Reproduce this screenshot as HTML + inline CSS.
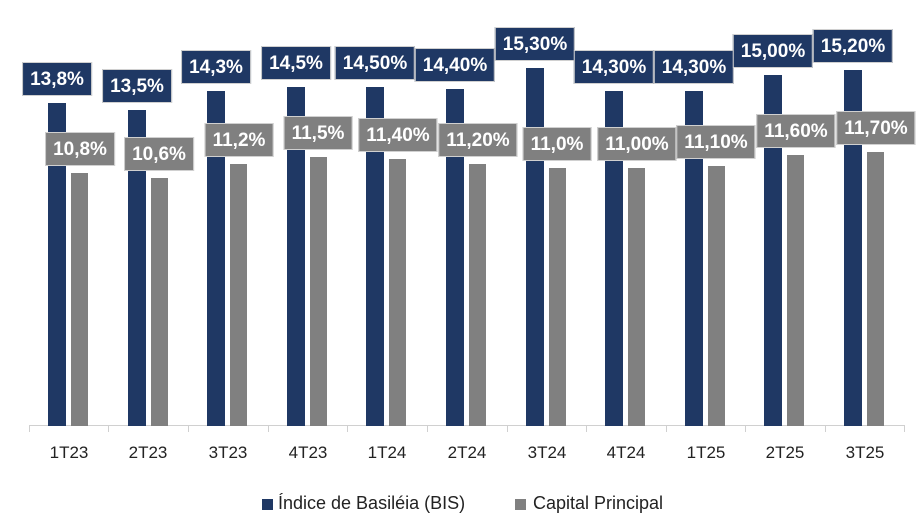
<!DOCTYPE html><html><head><style>
body{margin:0;width:921px;height:527px;background:#fff;position:relative;overflow:hidden;font-family:"Liberation Sans",Arial,sans-serif}
.b{position:absolute;background:#1f3864;width:18px;bottom:101px}
.g{position:absolute;background:#808080;width:17px;bottom:101px}
.l{position:absolute;transform:translateX(-50%);height:34px;line-height:34px;padding:0 7px;color:#fff;font-weight:bold;font-size:19px;white-space:nowrap;box-sizing:border-box;border:1px solid #d0d0d0}
.lb{background:#1f3864}.lg{background:#808080}
.x{position:absolute;top:443px;transform:translateX(-50%);font-size:17px;color:#222}
.t{position:absolute;top:426px;width:1px;height:6px;background:#d0d0d0}
</style></head><body>
<div style="position:absolute;left:29px;top:425px;width:876px;height:1px;background:#d0d0d0"></div>
<div class="t" style="left:29px"></div><div class="t" style="left:108px"></div><div class="t" style="left:188px"></div><div class="t" style="left:268px"></div><div class="t" style="left:347px"></div><div class="t" style="left:427px"></div><div class="t" style="left:507px"></div><div class="t" style="left:586px"></div><div class="t" style="left:666px"></div><div class="t" style="left:745px"></div><div class="t" style="left:825px"></div><div class="t" style="left:904px"></div>

<div class="b" style="left:48px;top:103px"></div>
<div class="b" style="left:128px;top:110px"></div>
<div class="b" style="left:207px;top:91px"></div>
<div class="b" style="left:287px;top:87px"></div>
<div class="b" style="left:366px;top:87px"></div>
<div class="b" style="left:446px;top:89px"></div>
<div class="b" style="left:526px;top:68px"></div>
<div class="b" style="left:605px;top:91px"></div>
<div class="b" style="left:685px;top:91px"></div>
<div class="b" style="left:764px;top:75px"></div>
<div class="b" style="left:844px;top:70px"></div>

<div class="g" style="left:71px;top:173px"></div>
<div class="g" style="left:151px;top:178px"></div>
<div class="g" style="left:230px;top:164px"></div>
<div class="g" style="left:310px;top:157px"></div>
<div class="g" style="left:389px;top:159px"></div>
<div class="g" style="left:469px;top:164px"></div>
<div class="g" style="left:549px;top:168px"></div>
<div class="g" style="left:628px;top:168px"></div>
<div class="g" style="left:708px;top:166px"></div>
<div class="g" style="left:787px;top:155px"></div>
<div class="g" style="left:867px;top:152px"></div>

<div class="l lb" style="left:57px;top:62px">13,8%</div>
<div class="l lb" style="left:137px;top:69px">13,5%</div>
<div class="l lb" style="left:216px;top:50px">14,3%</div>
<div class="l lb" style="left:296px;top:46px">14,5%</div>
<div class="l lb" style="left:375px;top:46px">14,50%</div>
<div class="l lb" style="left:455px;top:48px">14,40%</div>
<div class="l lb" style="left:535px;top:27px">15,30%</div>
<div class="l lb" style="left:614px;top:50px">14,30%</div>
<div class="l lb" style="left:694px;top:50px">14,30%</div>
<div class="l lb" style="left:773px;top:34px">15,00%</div>
<div class="l lb" style="left:853px;top:29px">15,20%</div>

<div class="l lg" style="left:80px;top:132px">10,8%</div>
<div class="l lg" style="left:159px;top:137px">10,6%</div>
<div class="l lg" style="left:239px;top:123px">11,2%</div>
<div class="l lg" style="left:318px;top:116px">11,5%</div>
<div class="l lg" style="left:398px;top:118px">11,40%</div>
<div class="l lg" style="left:478px;top:123px">11,20%</div>
<div class="l lg" style="left:557px;top:127px">11,0%</div>
<div class="l lg" style="left:637px;top:127px">11,00%</div>
<div class="l lg" style="left:716px;top:125px">11,10%</div>
<div class="l lg" style="left:796px;top:114px">11,60%</div>
<div class="l lg" style="left:876px;top:111px">11,70%</div>

<div class="x" style="left:69px">1T23</div>
<div class="x" style="left:148px">2T23</div>
<div class="x" style="left:228px">3T23</div>
<div class="x" style="left:308px">4T23</div>
<div class="x" style="left:387px">1T24</div>
<div class="x" style="left:467px">2T24</div>
<div class="x" style="left:547px">3T24</div>
<div class="x" style="left:626px">4T24</div>
<div class="x" style="left:706px">1T25</div>
<div class="x" style="left:785px">2T25</div>
<div class="x" style="left:865px">3T25</div>

<div style="position:absolute;left:262px;top:499px;width:11px;height:11px;background:#1f3864"></div>
<div style="position:absolute;left:278px;top:493px;font-size:18px;color:#222">Índice de Basiléia (BIS)</div>
<div style="position:absolute;left:515px;top:499px;width:11px;height:11px;background:#808080"></div>
<div style="position:absolute;left:533px;top:493px;font-size:18px;color:#222">Capital Principal</div>
</body></html>
